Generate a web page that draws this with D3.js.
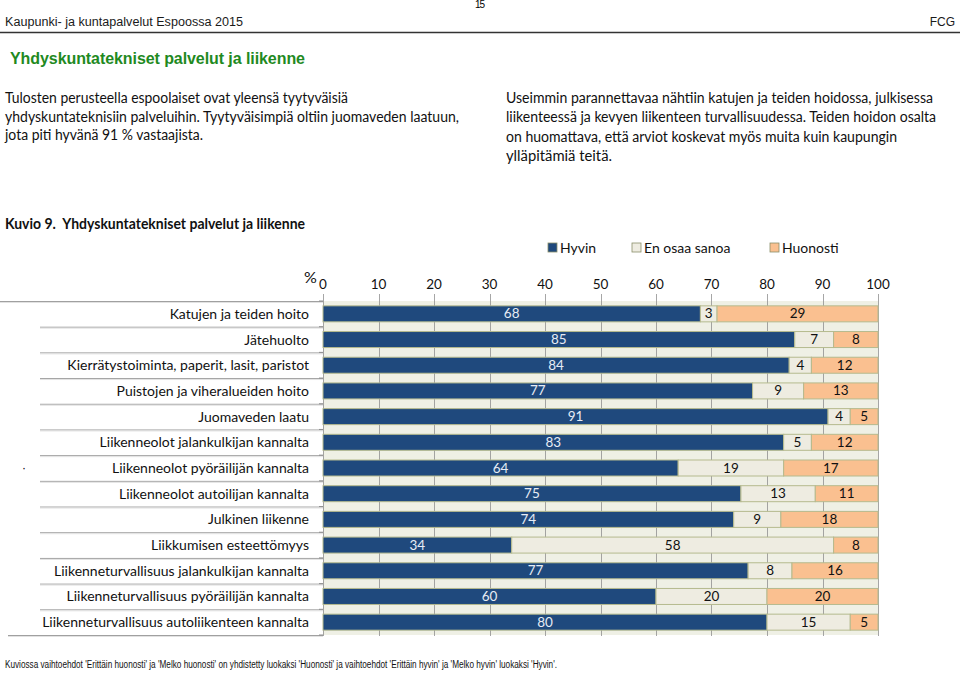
<!DOCTYPE html>
<html><head><meta charset="utf-8">
<script src="https://cdn.jsdelivr.net/npm/d3@7"></script>
<style>body{margin:0;background:#fff}svg{display:block}</style>
</head><body><svg id="c" width="960" height="673"></svg>
<script>
const categories = [
  "Katujen ja teiden hoito","Jätehuolto","Kierrätystoiminta, paperit, lasit, paristot",
  "Puistojen ja viheralueiden hoito","Juomaveden laatu","Liikenneolot jalankulkijan kannalta",
  "Liikenneolot pyöräilijän kannalta","Liikenneolot autoilijan kannalta","Julkinen liikenne",
  "Liikkumisen esteettömyys","Liikenneturvallisuus jalankulkijan kannalta",
  "Liikenneturvallisuus pyöräilijän kannalta","Liikenneturvallisuus autoliikenteen kannalta"];
const hyvin    = [68, 85, 84, 77.4, 91, 83, 64, 75.3, 74.0, 34, 76.6, 60, 80];
const enOsaa   = [3, 7, 4, 9.2, 4, 5, 19, 13.4, 8.5, 58, 7.9, 20, 15];
const huonosti = [29, 8, 12, 13.4, 5, 12, 17, 11.3, 17.5, 8, 15.5, 20, 5];
const seriesNames = ["Hyvin","En osaa sanoa","Huonosti"];
const seriesColors = ["#1f497d","#eeece1","#fac090"];
const ticks = [0,10,20,30,40,50,60,70,80,90,100];

const svg = d3.select("#c");
const sans = "'Liberation Sans', Arial, sans-serif";
const cal = "Lato, 'Open Sans', sans-serif";

// header
svg.append("text").attr("x",480).attr("y",8).attr("text-anchor","middle")
  .attr("font-family",sans).attr("font-size",10).attr("textLength",10).text("15");
svg.append("text").attr("x",5).attr("y",26).attr("font-family","'Liberation Sans Narrow', "+sans)
  .attr("font-size",12).attr("fill","#1a1a1a").attr("textLength",238).attr("lengthAdjust","spacingAndGlyphs")
  .text("Kaupunki- ja kuntapalvelut Espoossa 2015");
svg.append("text").attr("x",955).attr("y",26).attr("text-anchor","end").attr("font-family","'Liberation Sans Narrow', "+sans)
  .attr("font-size",12).attr("fill","#1a1a1a").text("FCG");
svg.append("line").attr("x1",0).attr("x2",960).attr("y1",32.5).attr("y2",32.5).attr("stroke","#333").attr("stroke-width",1.5);
svg.append("text").attr("x",10).attr("y",64).attr("font-family",sans).attr("font-weight","bold")
  .attr("font-size",16).attr("fill","#1f8a1f").attr("textLength",295).attr("lengthAdjust","spacing")
  .text("Yhdyskuntatekniset palvelut ja liikenne");

const leftPara = [["Tulosten perusteella espoolaiset ovat yleensä tyytyväisiä",343],
  ["yhdyskuntateknisiin palveluihin. Tyytyväisimpiä oltiin juomaveden laatuun,",454],
  ["jota piti hyvänä 91 % vastaajista.",198]];
leftPara.forEach((d,i)=>svg.append("text").attr("x",5).attr("y",103+i*18.7).attr("font-family",cal)
  .attr("font-size",14.5).attr("fill","#111").attr("textLength",d[1]).attr("lengthAdjust","spacingAndGlyphs").text(d[0]));
const rightPara = [["Useimmin parannettavaa nähtiin katujen ja teiden hoidossa, julkisessa",427],
  ["liikenteessä ja kevyen liikenteen turvallisuudessa. Teiden hoidon osalta",430],
  ["on huomattava, että arviot koskevat myös muita kuin kaupungin",391],
  ["ylläpitämiä teitä.",106]];
rightPara.forEach((d,i)=>svg.append("text").attr("x",506).attr("y",103+i*19.3).attr("font-family",cal)
  .attr("font-size",14.5).attr("fill","#111").attr("textLength",d[1]).attr("lengthAdjust","spacingAndGlyphs").text(d[0]));

svg.append("text").attr("x",5).attr("y",229).attr("font-family",cal).attr("font-weight","bold")
  .attr("font-size",14.5).attr("fill","#111").attr("textLength",300).attr("lengthAdjust","spacingAndGlyphs")
  .text("Kuvio 9.\u00a0\u00a0Yhdyskuntatekniset palvelut ja liikenne");

// chart
const x = d3.scaleLinear().domain([0,100]).range([323,878]);
const y = d3.scaleBand().domain(categories).range([301,635]).paddingInner(0.4).paddingOuter(0.2);
const step = y.step();

// table lines left
categories.forEach((c,i)=>{
  const yy = 301 + i*step;
  const x0 = i===0 ? 0 : 40;
  svg.append("line").attr("x1",x0).attr("x2",323).attr("y1",yy+0.5).attr("y2",yy+0.5).attr("stroke","#a0a0a0");
  svg.append("line").attr("x1",x0).attr("x2",323).attr("y1",yy+1.5).attr("y2",yy+1.5).attr("stroke","#e2e2e2");
});
svg.append("line").attr("x1",8).attr("x2",323).attr("y1",635.5).attr("y2",635.5).attr("stroke","#a0a0a0");
svg.append("line").attr("x1",8).attr("x2",323).attr("y1",636.5).attr("y2",636.5).attr("stroke","#e2e2e2");

// plot background
svg.append("rect").attr("x",x(0)).attr("y",301).attr("width",x(100)-x(0)).attr("height",334).attr("fill","#eff0e5");
// gridlines
svg.append("g").selectAll("line").data(ticks).join("line")
  .attr("x1",d=>Math.round(x(d))+0.5).attr("x2",d=>Math.round(x(d))+0.5).attr("y1",294).attr("y2",636)
  .attr("stroke","#8f8f8f").attr("stroke-width",0.8);
// left axis ticks
svg.append("g").selectAll("line").data(d3.range(14)).join("line")
  .attr("x1",319).attr("x2",323).attr("y1",i=>301+i*step).attr("y2",i=>301+i*step).attr("stroke","#8f8f8f");

// bars
const data = categories.map((c,i)=>({cat:c, v:[hyvin[i],enOsaa[i],huonosti[i]]}));
const bh = 16;
data.forEach(d=>{
  let acc = 0;
  const cy = y(d.cat) + y.bandwidth()/2;
  d.v.forEach((v,k)=>{
    svg.append("rect").attr("x",x(acc)).attr("y",cy-bh/2).attr("width",x(acc+v)-x(acc)).attr("height",bh)
      .attr("fill",seriesColors[k]).attr("stroke","#b5ba8e").attr("stroke-width",1);
    svg.append("text").attr("x",(x(acc)+x(acc+v))/2).attr("y",cy+4.5).attr("text-anchor","middle")
      .attr("font-family",cal).attr("font-size",13.5).attr("fill",k===0?"#e6ecf5":"#111").text(Math.round(v));
    acc += v;
  });
  svg.append("text").attr("x",309).attr("y",cy+5).attr("text-anchor","end").attr("font-family",cal)
    .attr("font-size",14).attr("fill","#111").text(d.cat);
});

// tick labels
svg.append("g").selectAll("text").data(ticks).join("text")
  .attr("x",d=>x(d)).attr("y",289).attr("text-anchor","middle").attr("font-family",cal)
  .attr("font-size",13.5).attr("fill","#111").text(d=>d);
svg.append("text").attr("x",304).attr("y",283).attr("font-family",cal).attr("font-size",16).attr("fill","#111").text("%");

// legend
const legX = [548,632,770];
seriesNames.forEach((n,k)=>{
  svg.append("rect").attr("x",legX[k]).attr("y",243).attr("width",9).attr("height",9)
    .attr("fill",seriesColors[k]).attr("stroke","#8a8f6a").attr("stroke-width",0.8);
  svg.append("text").attr("x",legX[k]+12).attr("y",253).attr("font-family",cal).attr("font-size",14)
    .attr("fill","#111").text(n);
});

// stray dot
svg.append("text").attr("x",22).attr("y",472).attr("font-family",sans).attr("font-size",12).text("·");

// footer
svg.append("text").attr("x",5).attr("y",668).attr("font-family","'Liberation Sans Narrow', "+sans)
  .attr("font-size",10).attr("fill","#111").attr("textLength",552).attr("lengthAdjust","spacingAndGlyphs")
  .text("Kuviossa vaihtoehdot 'Erittäin huonosti' ja 'Melko huonosti' on yhdistetty luokaksi 'Huonosti' ja vaihtoehdot 'Erittäin hyvin' ja 'Melko hyvin' luokaksi 'Hyvin'.");
</script></body></html>
